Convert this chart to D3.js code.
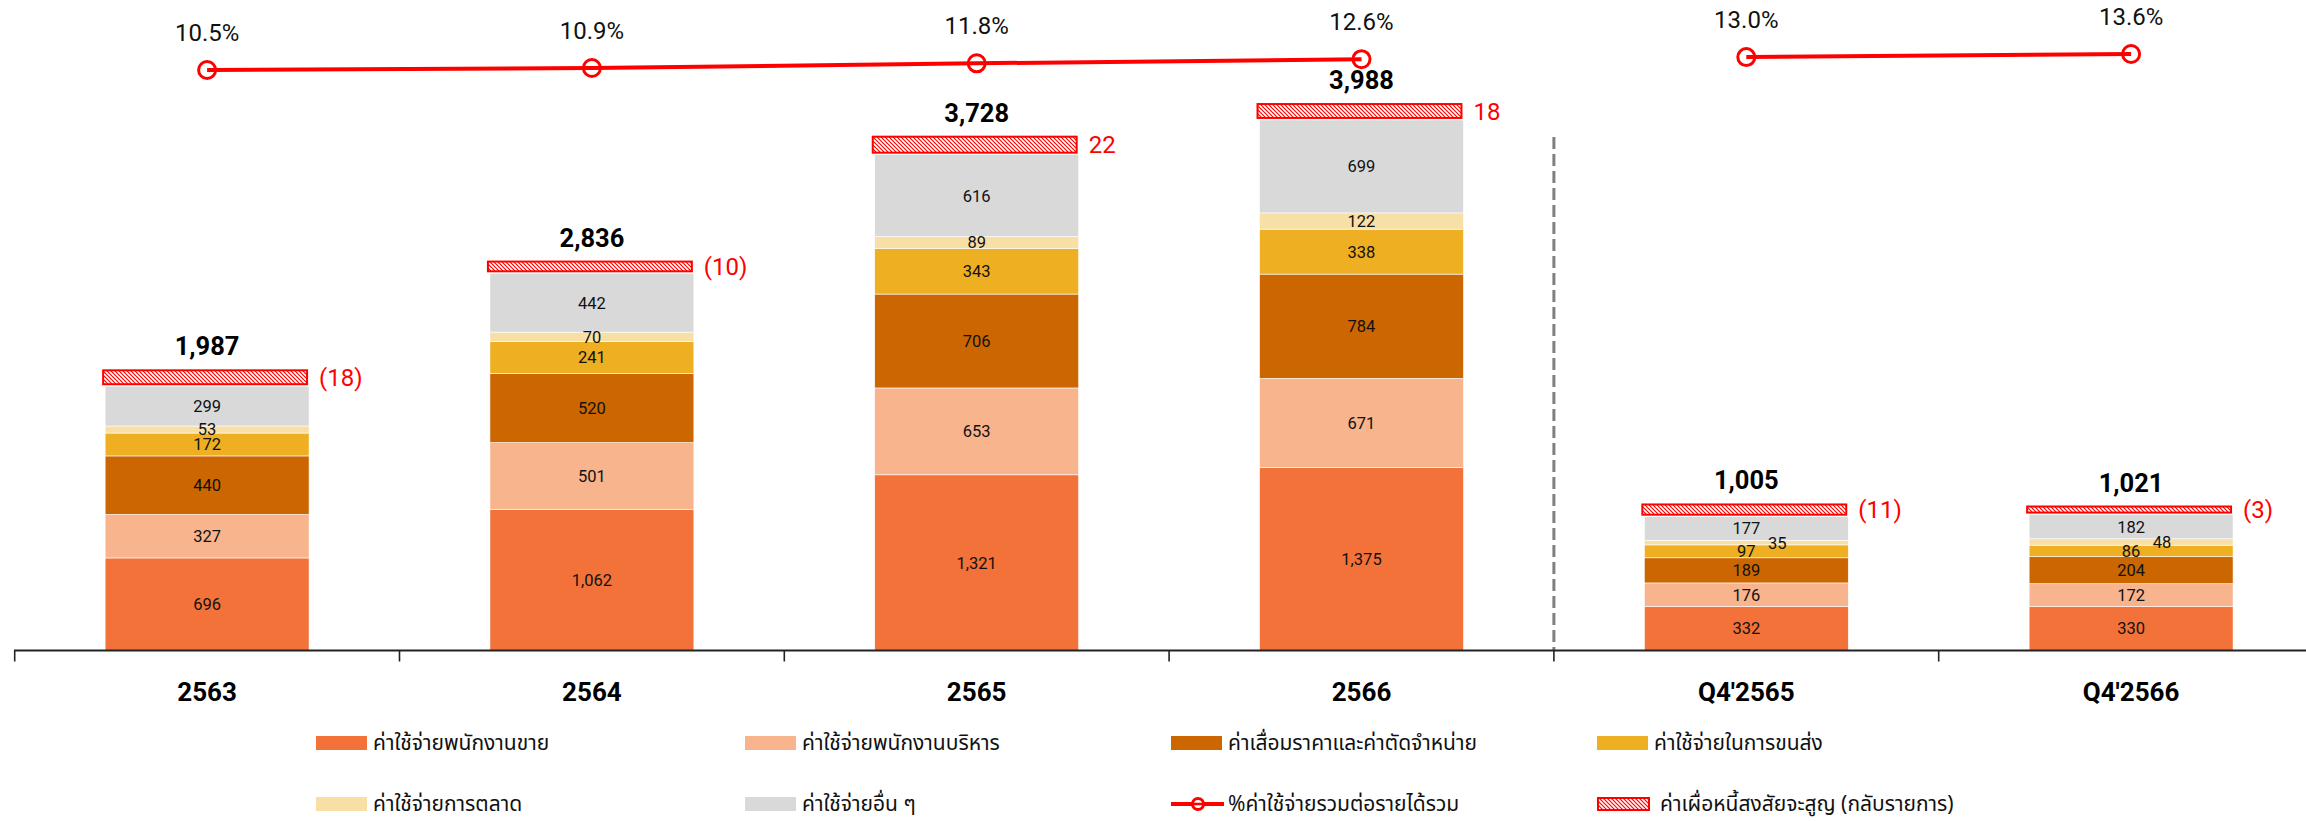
<!DOCTYPE html>
<html>
<head>
<meta charset="utf-8">
<script src="https://cdn.jsdelivr.net/npm/d3@7"></script>
<style>
  html, body { margin: 0; padding: 0; background: #fff; }
  svg text { font-family: "Noto Sans Thai", "Noto Sans Thai UI", "Tahoma", "Noto Sans", "DejaVu Sans", sans-serif; }
  .num { font-family: Roboto, "Noto Sans", sans-serif; }
</style>
</head>
<body>
<svg id="chart" width="2306" height="821"></svg>
<script>
// ---------------- data ----------------
const categories = ["2563", "2564", "2565", "2566", "Q4'2565", "Q4'2566"];
const periodGroup = ["year", "year", "year", "year", "quarter", "quarter"];

const sellingStaff = [696, 1062, 1321, 1375, 332, 330];
const adminStaff   = [327, 501, 653, 671, 176, 172];
const depreciation = [440, 520, 706, 784, 189, 204];
const transport    = [172, 241, 343, 338, 97, 86];
const marketing    = [53, 70, 89, 122, 35, 48];
const otherExp     = [299, 442, 616, 699, 177, 182];
const badDebt      = [-18, -10, 22, 18, -11, -3];
const totals       = [1987, 2836, 3728, 3988, 1005, 1021];
const expenseRatio = [10.5, 10.9, 11.8, 12.6, 13.0, 13.6];

const seriesNames = [
  "ค่าใช้จ่ายพนักงานขาย",
  "ค่าใช้จ่ายพนักงานบริหาร",
  "ค่าเสื่อมราคาและค่าตัดจำหน่าย",
  "ค่าใช้จ่ายในการขนส่ง",
  "ค่าใช้จ่ายการตลาด",
  "ค่าใช้จ่ายอื่น ๆ"
];
const lineName = "%ค่าใช้จ่ายรวมต่อรายได้รวม";
const badDebtName = "ค่าเผื่อหนี้สงสัยจะสูญ (กลับรายการ)";

// ---------------- styles ----------------
const colors = ["#F37239", "#F8B48C", "#CC6600", "#EEAF22", "#F8DFA6", "#D9D9D9"];
const RED = "#FF0000";

const svg = d3.select("#chart");
const W = 2306, H = 821;

const seriesValues = [sellingStaff, adminStaff, depreciation, transport, marketing, otherExp];
const rows = categories.map((c, i) => {
  const r = { cat: c, i };
  seriesNames.forEach((n, k) => r[n] = seriesValues[k][i]);
  return r;
});

// scales
const x = d3.scaleBand().domain(categories).range([14.7, 2323.5]).padding(0);
const barW = x.bandwidth() * 0.53;
const y = d3.scaleLinear().domain([0, 4000]).range([650.5, 118.5]);
const yPct = d3.scaleLinear().domain([0, 20]).range([124.2, 21.0]);
const hBad = d3.scaleLinear().domain([0, 22]).range([4.5, 16]);

const stack = d3.stack().keys(seriesNames)(rows);

// bars
const gBars = svg.append("g");
stack.forEach((layer, k) => {
  gBars.selectAll(null).data(layer).join("rect")
    .attr("x", d => x(d.data.cat) + (x.bandwidth() - barW) / 2)
    .attr("y", d => y(d[1]))
    .attr("width", barW)
    .attr("height", d => y(d[0]) - y(d[1]))
    .attr("fill", colors[k])
    .attr("stroke", "#fff")
    .attr("stroke-width", 0.6);
});

// segment labels
stack.forEach((layer, k) => {
  gBars.selectAll(null).data(layer).join("text")
    .attr("class", "num")
    .attr("x", d => {
      const cx = x(d.data.cat) + x.bandwidth() / 2;
      const h = y(d[0]) - y(d[1]);
      return h < 6.9 ? cx + 31 : cx;
    })
    .attr("y", d => (y(d[0]) + y(d[1])) / 2)
    .attr("dy", "0.36em")
    .attr("text-anchor", "middle")
    .attr("font-size", 16.5)
    .attr("fill", "#111")
    .text(d => d3.format(",")(d.data[seriesNames[k]]));
});

// hatch pattern
const defs = svg.append("defs");
const pat = defs.append("pattern")
  .attr("id", "hatch")
  .attr("patternUnits", "userSpaceOnUse")
  .attr("width", 4).attr("height", 4);
pat.append("rect").attr("width", 4).attr("height", 4).attr("fill", "#fff");
pat.append("path")
  .attr("d", "M-1,-1 L5,5 M-1,3 L1,5 M3,-1 L5,1")
  .attr("stroke", RED).attr("stroke-width", 1.2);

// bad debt bars + labels + totals
const topOf = i => y(d3.sum(seriesValues, s => s[i]));
categories.forEach((c, i) => {
  const cx = x(c) + x.bandwidth() / 2;
  const h = hBad(Math.abs(badDebt[i]));
  const bottom = topOf(i) - 2;
  const yTop = bottom - h;
  svg.append("rect")
    .attr("x", cx - barW / 2 - 2)
    .attr("y", yTop)
    .attr("width", barW)
    .attr("height", h)
    .attr("fill", "url(#hatch)")
    .attr("stroke", RED)
    .attr("stroke-width", 2);
  svg.append("text")
    .attr("class", "num")
    .attr("x", cx + barW / 2 + 10)
    .attr("y", yTop + h / 2)
    .attr("dy", "0.36em")
    .attr("font-size", 24)
    .attr("fill", RED)
    .text(badDebt[i] < 0 ? `(${-badDebt[i]})` : `${badDebt[i]}`);
  svg.append("text")
    .attr("class", "num")
    .attr("x", cx)
    .attr("y", yTop - 1 - 14)
    .attr("text-anchor", "middle")
    .attr("font-size", 25.5)
    .attr("font-weight", 700)
    .attr("fill", "#000")
    .text(d3.format(",")(totals[i]));
});

// dashed separator between annual and quarterly groups
const sepX = x("Q4'2565");
svg.append("line")
  .attr("x1", sepX).attr("x2", sepX)
  .attr("y1", 137).attr("y2", y(0))
  .attr("stroke", "#808080")
  .attr("stroke-width", 3)
  .attr("stroke-dasharray", "12,5");

// axis
const axisG = svg.append("g").attr("transform", `translate(0,${y(0)})`);
axisG.append("line")
  .attr("x1", 14).attr("x2", W)
  .attr("stroke", "#222").attr("stroke-width", 2);
const boundaries = categories.map(c => x(c));
axisG.selectAll(".tk").data(boundaries).join("line")
  .attr("x1", d => d).attr("x2", d => d)
  .attr("y1", 0).attr("y2", 11)
  .attr("stroke", "#222").attr("stroke-width", 1.6);
const xAxis = d3.axisBottom(x).tickSize(0).tickPadding(0);
const ax = svg.append("g").attr("transform", `translate(0,${y(0)})`).call(xAxis);
ax.select(".domain").remove();
ax.selectAll("text")
  .attr("class", "num")
  .attr("y", 50)
  .attr("dy", 0)
  .attr("font-size", 26)
  .attr("font-weight", 700)
  .attr("fill", "#000")
  .style("font-family", "Roboto, 'Noto Sans', sans-serif");

// percentage line
const lineGen = d3.line()
  .x(i => x(categories[i]) + x.bandwidth() / 2)
  .y(i => yPct(expenseRatio[i]));
const groups = d3.groups(d3.range(categories.length), i => periodGroup[i]);
svg.selectAll(".mk").data(d3.range(categories.length)).join("circle")
  .attr("cx", i => x(categories[i]) + x.bandwidth() / 2)
  .attr("cy", i => yPct(expenseRatio[i]))
  .attr("r", 8.5)
  .attr("fill", "#fff")
  .attr("stroke", RED)
  .attr("stroke-width", 3);
groups.forEach(([, idx]) => {
  svg.append("path")
    .attr("d", lineGen(idx))
    .attr("fill", "none")
    .attr("stroke", RED)
    .attr("stroke-width", 4);
});
svg.selectAll(".pl").data(d3.range(categories.length)).join("text")
  .attr("class", "num")
  .attr("x", i => x(categories[i]) + x.bandwidth() / 2)
  .attr("y", i => yPct(expenseRatio[i]) - 29)
  .attr("text-anchor", "middle")
  .attr("font-size", 24)
  .attr("fill", "#111")
  .text(i => d3.format(".1f")(expenseRatio[i]) + "%");

// legend
const legendItems = [
  ...seriesNames.map((n, k) => ({ name: n, type: "rect", color: colors[k] })),
  { name: lineName, type: "line" },
  { name: badDebtName, type: "hatch" }
];
const colX = [316, 745, 1171, 1597];
const rowY = [743, 804];
const lg = svg.append("g");
legendItems.forEach((it, k) => {
  const lx = colX[k % 4], ly = rowY[Math.floor(k / 4)];
  const g = lg.append("g").attr("transform", `translate(${lx},${ly})`);
  if (it.type === "rect") {
    g.append("rect").attr("x", 0).attr("y", -7).attr("width", 51).attr("height", 14).attr("fill", it.color);
  } else if (it.type === "line") {
    g.append("line").attr("x1", 0).attr("x2", 53).attr("y1", 0).attr("y2", 0)
      .attr("stroke", RED).attr("stroke-width", 4);
    g.append("circle").attr("cx", 27).attr("cy", 0).attr("r", 5.5)
      .attr("fill", "#fff").attr("stroke", RED).attr("stroke-width", 3);
    g.append("line").attr("x1", 0).attr("x2", 53).attr("y1", 0).attr("y2", 0)
      .attr("stroke", RED).attr("stroke-width", 2.5);
  } else {
    g.append("rect").attr("x", 1).attr("y", -6).attr("width", 51).attr("height", 12)
      .attr("fill", "url(#hatch)").attr("stroke", RED).attr("stroke-width", 2);
  }
  g.append("text")
    .attr("x", it.type === "hatch" ? 63 : 57)
    .attr("y", 0)
    .attr("dy", "0.35em")
    .attr("font-size", 21)
    .attr("fill", "#111")
    .text(it.name);
});
</script>
</body>
</html>
